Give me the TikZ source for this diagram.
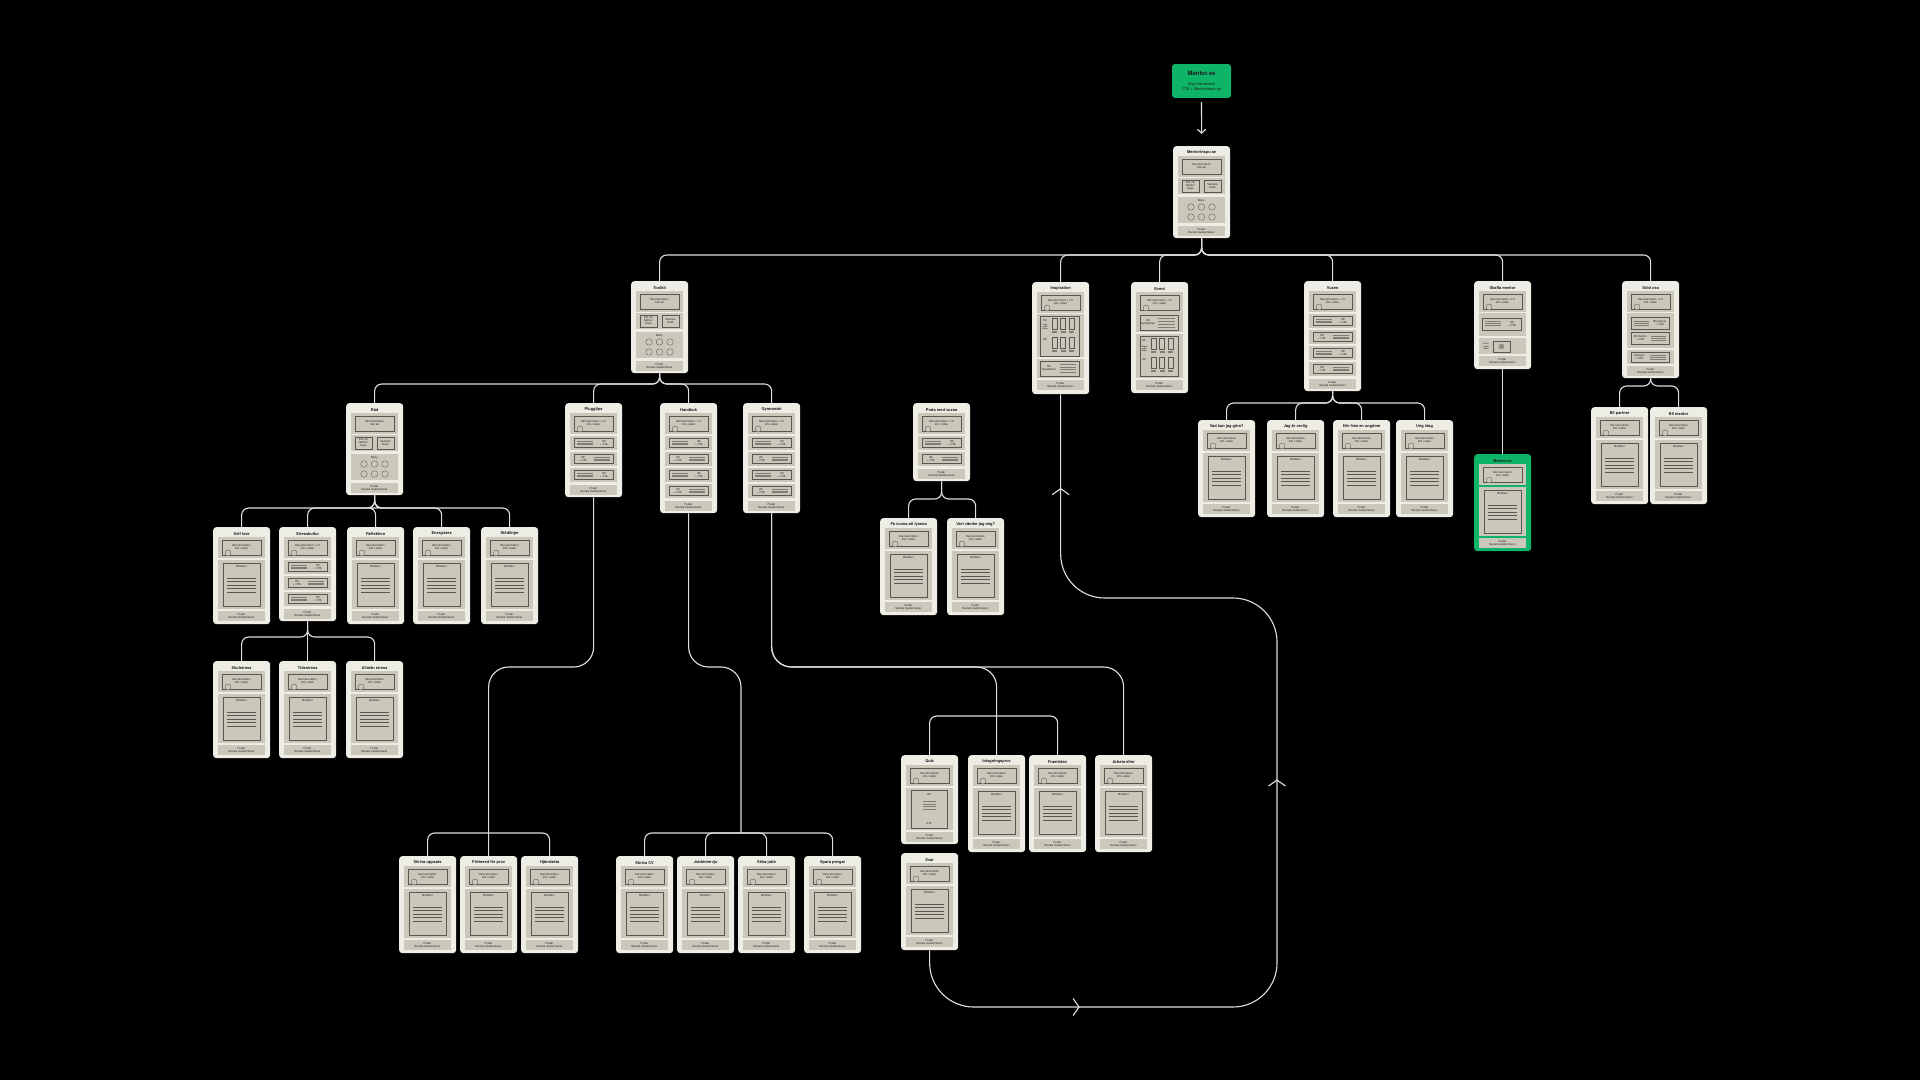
\documentclass[tikz,border=0pt]{standalone}
\usepackage{fontspec}
\setmainfont{TeX Gyre Heros}
\usetikzlibrary{arrows.meta,positioning,calc,decorations.markings}
\definecolor{Paper}{RGB}{237,236,229}
\definecolor{Panel}{RGB}{203,200,187}
\definecolor{Wire}{RGB}{88,87,80}
\definecolor{Stripe}{RGB}{128,126,116}
\definecolor{LinkGray}{RGB}{222,222,222}
\definecolor{Mint}{RGB}{14,181,105}
\definecolor{Ink}{RGB}{28,28,26}
\tikzset{
  card/.style={fill=#1,rounded corners=0.16cm,minimum width=2.85cm,inner sep=0pt,anchor=north west},
  card/.default=Paper,
  topbox/.style={fill=Mint,rounded corners=0.15cm,minimum width=2.95cm,minimum height=1.7cm,inner sep=0pt},
  panel/.style={fill=Panel},
  wirebox/.style={draw=Wire,line width=0.5pt},
  stripe/.style={draw=Stripe,line width=1.1pt},
  pagetitle/.style={font=\bfseries\fontsize{5.6}{6}\selectfont,text=Ink,inner sep=0pt},
  tinytext/.style={font=\fontsize{3.9}{4.4}\selectfont,text=Ink,align=center,inner sep=0pt},
  captext/.style={font=\fontsize{2.8}{3.2}\selectfont,text=Ink,align=center,inner sep=0pt},
  link/.style={color=LinkGray,line width=1.6pt,rounded corners=0.35cm},
  longlink/.style={color=LinkGray,line width=1.6pt,rounded corners=1cm},
  loopback/.style={color=LinkGray,line width=1.6pt,rounded corners=2.2cm},
}
% card frame with title, in px units
\newcommand{\pagecard}[6][Paper]{%
  \node[card=#1,minimum height=#5*0.05cm] (#2) at (#3,#4) {};
  \node[pagetitle] (#2-title) at ([yshift=-0.33cm]#2.north) {#6};
}
\newcommand{\herobox}[3]{%
  \fill[panel] (5,10) rectangle (52,31);
  \draw[wirebox] (9,13) rectangle (48,28);
  \node[tinytext] (#1-hero) at (28.5,20) {#2};
  \ifnum#3=1 \draw[wirebox,fill=Panel] (15,26) circle (3);\fi
}
\newcommand{\footbox}[2]{%
  \fill[panel] (5,#2) rectangle (52,#2+10);
  \node[tinytext] (#1-foot) at (28.5,#2+5) {Footer\\Sociala medier/ikoner};
}
\newcommand{\gridrow}[2]{%
  \node[tinytext] (#1) at (13,#2+3) {H3};
  \foreach \gx in {20,28.5,37}{
    \draw[wirebox] (\gx,#2) rectangle (\gx+5,#2+11);
    \fill[Stripe] (\gx,#2+12.5) rectangle (\gx+5,#2+15);
  }
}
\newcommand{\articlepage}[5][Paper]{%
  \pagecard[#1]{#2}{#3}{#4}{97}{#5}
  \begin{scope}[shift={(#3,#4)}]
    \herobox{#2}{Hero/animation\\Info i sidan}{1}
    \fill[panel] (5,33) rectangle (52,82);
    \draw[wirebox] (10,36) rectangle (47,79);
    \node[tinytext] (#2-body) at (28.5,40) {Brödtext};
    \foreach \ly in {51,54.5,58,61.5,65} \draw[draw=Wire,line width=0.5pt] (14,\ly) -- (43,\ly);
    \footbox{#2}{84}
  \end{scope}
}
\newcommand{\listpage}[5]{%
  \pgfmathtruncatemacro{\listh}{33+16*#5+13}
  \pagecard{#1}{#2}{#3}{\listh}{#4}
  \begin{scope}[shift={(#2,#3)}]
    \herobox{#1}{Hero/animation + H1\\Info i sidan}{1}
    \foreach \k in {1,...,#5}{
      \pgfmathsetmacro{\blocky}{33+16*(\k-1)}
      \fill[panel] (5,\blocky) rectangle (52,\blocky+14);
      \draw[wirebox] (9,\blocky+2.5) rectangle (48,\blocky+11.5);
      \ifodd\k
        \foreach \sy in {5.3,7,8.7} \draw[stripe] (12,\blocky+\sy) -- (28,\blocky+\sy);
        \node[tinytext] (#1-b\k) at (39,\blocky+7) {H3\\+ CTA};
      \else
        \node[tinytext] (#1-b\k) at (18,\blocky+7) {H3\\+ CTA};
        \foreach \sy in {5.3,7,8.7} \draw[stripe] (29,\blocky+\sy) -- (45,\blocky+\sy);
      \fi
    }
    \pgfmathtruncatemacro{\fy}{33+16*#5+1}
    \footbox{#1}{\fy}
  \end{scope}
}
\newcommand{\hubpage}[4]{%
  \pagecard{#1}{#2}{#3}{92}{#4}
  \begin{scope}[shift={(#2,#3)}]
    \herobox{#1}{Hero/animation\\Text ab}{0}
    \fill[panel] (5,32) rectangle (52,48);
    \draw[wirebox] (9,34) rectangle (26,46);
    \node[tinytext] (#1-info) at (17.5,40) {Info om\\Mentor\\Inspo};
    \draw[wirebox] (31,34) rectangle (48,46);
    \node[tinytext] (#1-hack) at (39.5,40) {Veckans\\Hack};
    \fill[panel] (5,51) rectangle (52,77);
    \node[tinytext] (#1-menu) at (28.5,54.5) {Meny};
    \foreach \cx in {18,28.5,39} \foreach \cy in {61,71} \draw[wirebox] (\cx,\cy) circle (3.3);
    \footbox{#1}{80}
  \end{scope}
}

\begin{document}
\begin{tikzpicture}[x=0.05cm,y=-0.05cm]
\fill[black] (0,0) rectangle (1920,1080);

\node[topbox] (mentorse) at (1201.5,81) {};
\node[font=\bfseries\fontsize{8.5}{9}\selectfont,text=Ink,inner sep=0pt] (mentorse-title) at (1201.5,73) {Mentor.se};
\node[font=\fontsize{5.6}{8.3}\selectfont,text=Ink,align=center,inner sep=0pt] (mentorse-sub) at (1201.5,87) {(Nya hemsidan)\\CTA + Mentorinspo.se};
\hubpage{mentorinspo}{1173}{146}{Mentorinspo.se}

\hubpage{toolkit}{631}{281}{Toolkit}
% Inspiration
\pagecard{inspiration}{1032}{282}{112}{Inspiration}
\begin{scope}[shift={(1032,282)}]
  \herobox{inspiration}{Hero/animation + H1\\Info i sidan}{1}
  \fill[panel] (5,32) rectangle (52,75);
  \draw[wirebox] (8,34) rectangle (47,74);
  \gridrow{inspiration-r1}{36}
  \node[captext] (inspiration-cap) at (13,45) {Inspo\\media\\artiklar};
  \gridrow{inspiration-r2}{55}
  \fill[panel] (5,77) rectangle (52,96);
  \draw[wirebox] (8,79) rectangle (47,94);
  \node[tinytext] (inspiration-nl) at (17,86.5) {H3\\Nyhetsbrev};
  \foreach \sy in {82.5,85,87.5,90} \draw[stripe] (28,\sy) -- (44,\sy);
  \footbox{inspiration}{98}
\end{scope}
% Event
\pagecard{event}{1131}{282}{111}{Event}
\begin{scope}[shift={(1131,282)}]
  \herobox{event}{Hero/animation + H1\\Info i sidan}{1}
  \fill[panel] (5,31) rectangle (52,50);
  \draw[wirebox] (9,33) rectangle (47,48);
  \node[tinytext] (event-nl) at (17,40.5) {H3\\Nyhetsbrev};
  \foreach \sy in {36,39,42,45} \draw[stripe] (27,\sy) -- (44,\sy);
  \fill[panel] (5,52) rectangle (52,96);
  \draw[wirebox] (9,54) rectangle (47,94);
  \gridrow{event-r1}{56}
  \node[captext] (event-cap) at (13.5,67) {Tidigare\\event\\bilder};
  \gridrow{event-r2}{75}
  \footbox{event}{98}
\end{scope}
\listpage{vuxen}{1304}{281}{Vuxen}{4}
% Skaffa mentor
\pagecard{skaffa}{1474}{281}{88}{Skaffa mentor}
\begin{scope}[shift={(1474,281)}]
  \herobox{skaffa}{Hero/animation + H1\\Info i sidan}{1}
  \fill[panel] (5,32) rectangle (52,55);
  \draw[wirebox] (8,37) rectangle (47,49);
  \foreach \sy in {40.5,42.5,44.5} \draw[stripe] (11,\sy) -- (27,\sy);
  \node[tinytext] (skaffa-cta) at (38,43) {H3\\+ CTA};
  \fill[panel] (5,57) rectangle (52,73);
  \node[captext] (skaffa-cap) at (12,65.5) {Skaffa\\mentor\\video};
  \draw[wirebox] (19,60) rectangle (36,71);
  \draw[wirebox] (27.5,65.5) circle (2.6);
  \fill[Wire] (26.6,64) -- (29.2,65.5) -- (26.6,67) -- cycle;
  \footbox{skaffa}{75}
\end{scope}
% Stod oss
\pagecard{stodoss}{1622}{281}{97}{Stöd oss}
\begin{scope}[shift={(1622,281)}]
  \herobox{stodoss}{Hero/animation + H1\\Info i sidan}{1}
  \fill[panel] (5,32) rectangle (52,67);
  \draw[wirebox] (9,36) rectangle (47,48);
  \foreach \sy in {40,42,44} \draw[stripe] (12,\sy) -- (27,\sy);
  \node[tinytext] (stodoss-partner) at (38,42) {Bli partner\\+ CTA};
  \draw[wirebox] (9,51) rectangle (47,63);
  \node[tinytext] (stodoss-mentor) at (18.5,57) {Bli mentor\\+ CTA};
  \foreach \sy in {55,57,59} \draw[stripe] (29,\sy) -- (44,\sy);
  \fill[panel] (5,69) rectangle (52,83);
  \draw[wirebox] (9,71) rectangle (47,81);
  \node[tinytext] (stodoss-sponsor) at (17.5,76) {Sponsra\\+ CTA};
  \foreach \sy in {74,76,78} \draw[stripe] (28,\sy) -- (44,\sy);
  \footbox{stodoss}{85}
\end{scope}

\hubpage{rad}{346}{403}{Råd}
\listpage{pluggtips}{565}{403}{Pluggtips}{3}
\listpage{handbok}{660}{403}{Handbok}{4}
\listpage{gymnasiet}{743}{403}{Gymnasiet}{4}
\listpage{prata}{913}{403}{Prata med vuxna}{2}

\articlepage{vadkan}{1198}{420}{Vad kan jag göra?}
\articlepage{orolig}{1267}{420}{Jag är orolig}
\articlepage{horfran}{1333}{420}{Hör från en ungdom}
\articlepage{ungidag}{1396}{420}{Ung idag}
\articlepage[Mint]{mentorcard}{1474}{454}{Mentor.se}
\articlepage{blipartner}{1591}{407}{Bli partner}
\articlepage{blimentor}{1650}{407}{Bli mentor}

\articlepage{selflove}{213}{527}{Self love}
\listpage{stress}{279}{527}{Stresskultur}{3}
\articlepage{reflektion}{347}{527}{Reflektion}
\articlepage{energi}{413}{527}{Energizers}
\articlepage{stodlinjer}{481}{527}{Stödlinjer}
\articlepage{skolstress}{213}{661}{Skolstress}
\articlepage{tidsstress}{279}{661}{Tidsstress}
\articlepage{allmanstress}{346}{661}{Allmän stress}

\articlepage{favuxna}{880}{518}{Få vuxna att lyssna}
\articlepage{vartvander}{947}{518}{Vart vänder jag mig?}

\articlepage{uppsats}{399}{856}{Skriva uppsats}
\articlepage{forbered}{460}{856}{Förbered för prov}
\articlepage{hjarnfakta}{521}{856}{Hjärnfakta}
\articlepage{skrivacv}{616}{856}{Skriva CV}
\articlepage{jobbintervju}{677}{856}{Jobbintervju}
\articlepage{sokajobb}{738}{856}{Söka jobb}
\articlepage{sparapengar}{804}{856}{Spara pengar}

% Quiz
\pagecard{quiz}{901}{755}{89}{Quiz}
\begin{scope}[shift={(901,755)}]
  \herobox{quiz}{Hero/animation\\Info i sidan}{1}
  \fill[panel] (5,33) rectangle (52,75);
  \draw[wirebox] (10,35) rectangle (46,73);
  \node[tinytext] (quiz-h3) at (28,40) {H3};
  \foreach \sy in {46.5,49,51.5,54} \draw[stripe,line width=1.4pt] (22,\sy) -- (35,\sy);
  \node[tinytext] (quiz-cta) at (28,68) {CTA};
  \footbox{quiz}{77}
\end{scope}
\articlepage{intagning}{968}{755}{Intagningsprov}
\articlepage{framtiden}{1029}{755}{Framtiden}
\articlepage{arbetaefter}{1095}{755}{Arbeta efter}
\articlepage{svar}{901}{853}{Svar}

\coordinate (toprow) at (0,255);
\coordinate (toolrow) at (0,384);
\coordinate (vuxenrow) at (0,403);
\coordinate (stodrow) at (0,386);
\coordinate (radrow) at (0,508);
\coordinate (stressrow) at (0,637);
\coordinate (pratarow) at (0,499);
\coordinate (bendrow) at (0,667);
\coordinate (bottomrow) at (0,833);
\coordinate (quizrow) at (0,716);
\coordinate (handdrop) at (741,667);
\coordinate (handbus) at (741,833);
\coordinate (loopfloor) at (0,1007);
\coordinate (loopshelf) at (0,598);
\coordinate (loopright) at (1277,0);

\draw[link,-{Straight Barb[length=0.2cm,width=0.42cm]},shorten <=0.2cm,shorten >=0.6cm] (mentorse.south) -- (mentorinspo.north);
\foreach \c in {toolkit,inspiration,event,vuxen,skaffa,stodoss} \draw[link] (mentorinspo.south) -- (mentorinspo.south |- toprow) -| (\c.north);
\foreach \c in {rad,pluggtips,handbok,gymnasiet} \draw[link] (toolkit.south) -- (toolkit.south |- toolrow) -| (\c.north);
\foreach \c in {vadkan,orolig,horfran,ungidag} \draw[link] (vuxen.south) -- (vuxen.south |- vuxenrow) -| (\c.north);
\foreach \c in {blipartner,blimentor} \draw[link] (stodoss.south) -- (stodoss.south |- stodrow) -| (\c.north);
\draw[link] (skaffa.south) -- (mentorcard.north);
\foreach \c in {selflove,stress,reflektion,energi,stodlinjer} \draw[link] (rad.south) -- (rad.south |- radrow) -| (\c.north);
\foreach \c in {skolstress,tidsstress,allmanstress} \draw[link] (stress.south) -- (stress.south |- stressrow) -| (\c.north);
\foreach \c in {favuxna,vartvander} \draw[link] (prata.south) -- (prata.south |- pratarow) -| (\c.north);

\draw[longlink] (pluggtips.south) |- (forbered.north |- bendrow) -- (forbered.north);
\foreach \c in {uppsats,hjarnfakta} \draw[link] (forbered.north |- bottomrow) -| (\c.north);
\draw[longlink] (handbok.south) |- (handdrop) -- (handbus);
\foreach \c in {skrivacv,jobbintervju,sokajobb,sparapengar} \draw[link] (handbus) -| (\c.north);
\draw[longlink] (gymnasiet.south) |- (arbetaefter.north |- bendrow) -- (arbetaefter.north);
\draw[longlink] (gymnasiet.south) |- (intagning.north |- bendrow) -- (intagning.north);
\foreach \c in {quiz,framtiden} \draw[link] (intagning.north |- quizrow) -| (\c.north);

\draw[loopback,postaction={decorate},decoration={markings,
  mark=at position 9.4cm with {\arrow{Straight Barb[length=0.3cm,width=0.85cm]}},
  mark=at position 29.7cm with {\arrow{Straight Barb[length=0.3cm,width=0.85cm]}},
  mark=at position 53.2cm with {\arrow{Straight Barb[length=0.3cm,width=0.85cm]}}}]
  (svar.south) -- (svar.south |- loopfloor) -- (loopright |- loopfloor) -- (loopright |- loopshelf) -- (inspiration.south |- loopshelf) -- (inspiration.south);
\end{tikzpicture}
\end{document}
